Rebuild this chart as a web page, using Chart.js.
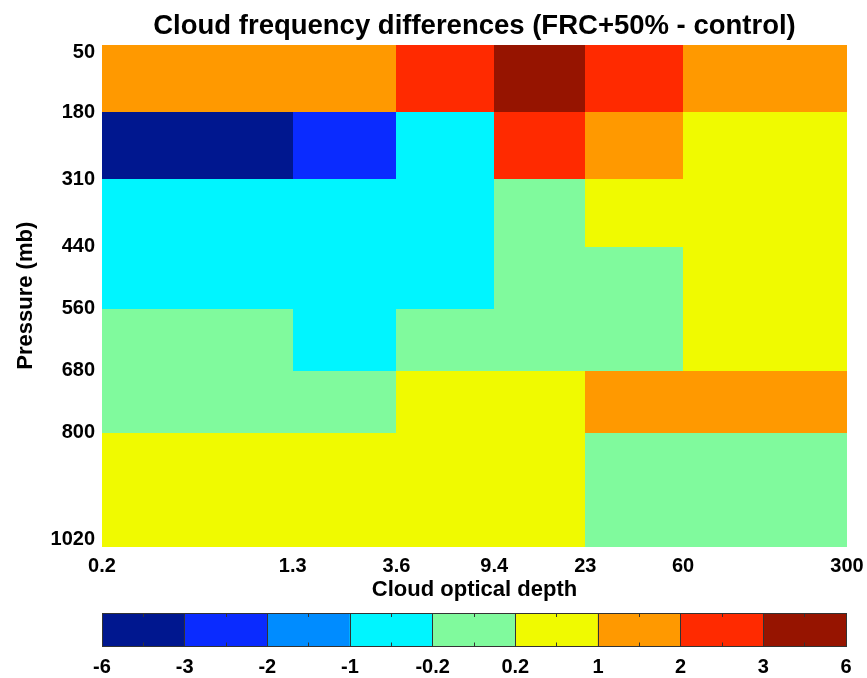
<!DOCTYPE html>
<html>
<head>
<meta charset="utf-8">
<script src="https://cdn.jsdelivr.net/npm/chart.js@4.4.1/dist/chart.umd.min.js"></script>
<style>
  html, body { margin: 0; padding: 0; background: #ffffff; }
  #wrap { position: relative; width: 867px; height: 678px; overflow: hidden; }
  #heat { position: absolute; left: 0; top: 0; }
  #cbar { position: absolute; left: 0; top: 600px; }
</style>
</head>
<body>
<div id="wrap">
  <canvas id="heat" width="867" height="678"></canvas>
  <canvas id="cbar" width="867" height="78"></canvas>
</div>
<script>
// Bin edges of the joint histogram
const opticalDepthEdges = [0.2, 1.3, 3.6, 9.4, 23, 60, 300];
const pressureEdges = [50, 180, 310, 440, 560, 680, 800, 1020];

// Cloud frequency difference (%) per pressure layer, one value per optical-depth bin
const layer50to180   = [1.3, 1.5, 2.3, 3.6, 2.5, 1.2];
const layer180to310  = [-3.4, -2.4, -0.6, 2.6, 1.6, 0.7];
const layer310to440  = [-0.5, -0.6, -0.4, 0.1, 0.4, 0.5];
const layer440to560  = [-0.4, -0.5, -0.3, 0.0, 0.1, 0.6];
const layer560to680  = [0.1, -0.3, 0.0, -0.1, 0.1, 0.5];
const layer680to800  = [-0.1, 0.1, 0.4, 0.6, 1.3, 1.2];
const layer800to1020 = [0.5, 0.6, 0.7, 0.4, 0.0, -0.1];
const pressureLayers = [layer50to180, layer180to310, layer310to440, layer440to560,
                        layer560to680, layer680to800, layer800to1020];

// Discrete colour levels
const colorLevels = [-6, -3, -2, -1, -0.2, 0.2, 1, 2, 3, 6];
const levelColors = ['#00178f', '#0a2bff', '#008cff', '#00f5ff', '#80fa9d',
                     '#f0fa00', '#ff9900', '#ff2a00', '#961400'];

const FONT = '"Liberation Sans", Arial, Helvetica, sans-serif';
const EDGE = '#333333';
Chart.defaults.font.family = FONT;
Chart.defaults.color = '#000000';

function colorFor(v) {
  for (let i = 0; i < levelColors.length; i++) {
    if (v < colorLevels[i + 1]) return levelColors[i];
  }
  return levelColors[levelColors.length - 1];
}

// Paints each histogram cell between its bin edges using the chart scales
const cellPainter = {
  id: 'cellPainter',
  beforeDatasetsDraw(chart) {
    const { ctx, scales: { x, y } } = chart;
    ctx.save();
    pressureLayers.forEach((row, r) => {
      const y0 = Math.round(y.getPixelForValue(pressureEdges[r]));
      const y1 = Math.round(y.getPixelForValue(pressureEdges[r + 1]));
      row.forEach((v, c) => {
        const x0 = Math.round(x.getPixelForValue(opticalDepthEdges[c]));
        const x1 = Math.round(x.getPixelForValue(opticalDepthEdges[c + 1]));
        ctx.fillStyle = colorFor(v);
        ctx.fillRect(x0, y0, x1 - x0, y1 - y0);
      });
    });
    ctx.restore();
  }
};

const tickFont = { family: FONT, size: 20, weight: 'bold' };
const labelFont = { family: FONT, size: 22, weight: 'bold' };

new Chart(document.getElementById('heat'), {
  type: 'scatter',
  data: { datasets: [{ data: [], pointRadius: 0 }] },
  plugins: [cellPainter],
  options: {
    responsive: false,
    animation: false,
    devicePixelRatio: 1,
    layout: { padding: { left: 0, right: 20, top: 0, bottom: 0 } },
    plugins: {
      legend: { display: false },
      tooltip: { enabled: false },
      title: {
        display: true,
        fullSize: false,
        text: 'Cloud frequency differences (FRC+50% - control)',
        color: '#000000',
        font: { family: FONT, size: 27.5, weight: 'bold' },
        padding: { top: 10, bottom: 2 }
      }
    },
    scales: {
      x: {
        type: 'logarithmic',
        position: 'bottom',
        min: opticalDepthEdges[0],
        max: opticalDepthEdges[opticalDepthEdges.length - 1],
        afterBuildTicks: s => { s.ticks = opticalDepthEdges.map(v => ({ value: v })); },
        afterFit: s => { s.height = 131.5; s.paddingLeft = 0; s.paddingRight = 0; },
        grid: { display: false, drawTicks: false },
        border: { display: false },
        ticks: {
          autoSkip: false, maxRotation: 0, padding: 8, color: '#000000', font: tickFont,
          callback: v => String(v)
        },
        title: {
          display: true, text: 'Cloud optical depth', color: '#000000',
          font: labelFont, padding: { top: 0, bottom: 75 }
        }
      },
      y: {
        type: 'linear',
        reverse: true,
        min: pressureEdges[0],
        max: pressureEdges[pressureEdges.length - 1],
        afterBuildTicks: s => { s.ticks = pressureEdges.map(v => ({ value: v })); },
        afterFit: s => { s.width = 102; },
        grid: { display: false, drawTicks: false },
        border: { display: false },
        ticks: {
          autoSkip: false, padding: 7, color: '#000000',
          font: { family: FONT, size: 20, weight: 'bold', lineHeight: '15px' },
          callback: v => {
            // keep the end labels inside the plot's vertical extent
            if (v === pressureEdges[0]) return ['', String(v)];
            if (v === pressureEdges[pressureEdges.length - 1]) return [String(v), ''];
            return String(v);
          }
        },
        title: {
          display: true, text: 'Pressure (mb)', color: '#000000',
          font: labelFont, padding: { top: 13, bottom: 0 }
        }
      }
    }
  }
});

// Colour bar: one bar per level interval, major ticks at level edges, minor ticks mid-bin
const levelTicks = colorLevels.map((v, i) => ({ value: i }));
const midTicks = levelColors.map((c, i) => ({ value: i + 0.5 }));

function minorAxis(position) {
  return {
    type: 'linear', position, min: 0, max: levelColors.length,
    offset: false,
    weight: -1,
    afterBuildTicks: s => { s.ticks = midTicks.map(t => ({ value: t.value })); },
    afterFit: s => { s.height = 0; },
    grid: {
      display: true, offset: false, drawOnChartArea: false, drawTicks: true,
      tickLength: -4, tickColor: EDGE, z: 2
    },
    border: { display: position === 'top', color: EDGE, width: 1, z: 2 },
    ticks: { display: false }
  };
}

new Chart(document.getElementById('cbar'), {
  type: 'bar',
  data: {
    datasets: [{
      data: levelColors.map((c, i) => ({ x: i + 0.5, y: [0, 1] })),
      backgroundColor: levelColors,
      borderWidth: 0,
      barPercentage: 1,
      categoryPercentage: 1
    }]
  },
  options: {
    responsive: false,
    animation: false,
    devicePixelRatio: 1,
    layout: { padding: { left: 102, right: 21, top: 13, bottom: 0 } },
    plugins: { legend: { display: false }, tooltip: { enabled: false }, title: { display: false } },
    scales: {
      x: {
        type: 'linear', position: 'bottom', min: 0, max: levelColors.length,
        offset: false,
        weight: 1,
        afterBuildTicks: s => { s.ticks = levelTicks.map(t => ({ value: t.value })); },
        afterFit: s => { s.height = 31.5; s.paddingLeft = 0; s.paddingRight = 0; },
        grid: {
          display: true, offset: false, drawOnChartArea: true, drawTicks: false, lineWidth: 1,
          color: EDGE, z: 1
        },
        border: { display: true, color: EDGE, width: 1, z: 2 },
        ticks: {
          autoSkip: false, maxRotation: 0, padding: 9, color: '#000000', font: tickFont,
          callback: (v, i) => String(colorLevels[i])
        }
      },
      xTop: minorAxis('top'),
      xBottom: minorAxis('bottom'),
      y: { display: false, min: 0, max: 1 }
    }
  }
});
</script>
</body>
</html>
